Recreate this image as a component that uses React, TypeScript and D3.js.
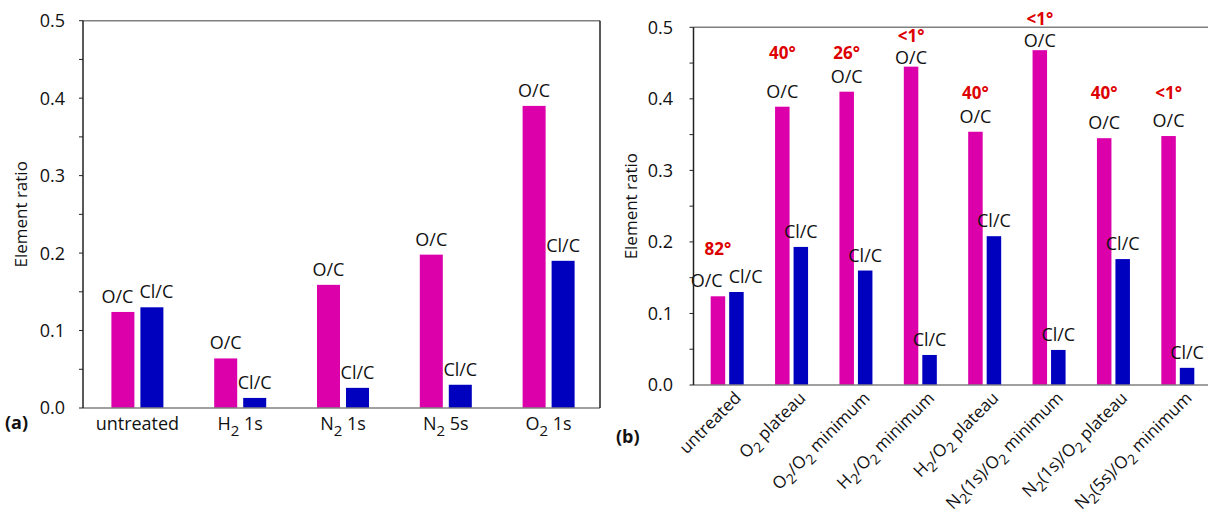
import React from 'react';
import * as d3 from 'd3';

// panel (a)
const catsA = ['untreated', 'H_2 1s', 'N_2 1s', 'N_2 5s', 'O_2 1s'];
const ocA = [0.124, 0.064, 0.159, 0.198, 0.39];
const clcA = [0.13, 0.013, 0.026, 0.03, 0.19];

// panel (b)
const catsB = [
  'untreated',
  'O_2 plateau',
  'O_2/O_2 minimum',
  'H_2/O_2 minimum',
  'H_2/O_2 plateau',
  'N_2(1s)/O_2 minimum',
  'N_2(1s)/O_2 plateau',
  'N_2(5s)/O_2 minimum',
];
const ocB = [0.124, 0.389, 0.41, 0.445, 0.354, 0.468, 0.345, 0.348];
const clcB = [0.13, 0.193, 0.16, 0.042, 0.208, 0.049, 0.176, 0.024];
const anglesB = ['82°', '40°', '26°', '<1°', '40°', '<1°', '40°', '<1°'];
// where each angle annotation sits, in element-ratio units
const angleAtB = [0.182, 0.455, 0.455, 0.48, 0.4, 0.503, 0.4, 0.4];

const yTicks = [0, 0.1, 0.2, 0.3, 0.4, 0.5];
const yMinor = [0.05, 0.15, 0.25, 0.35, 0.45];
const seriesNames = ['O/C', 'Cl/C'];

const MAG = '#dc00aa';
const BLU = '#0000bf';
const RED = '#dd0000';
const GREY = '#808080';
const FONT = "'Open Sans', sans-serif";

// "H_2 1s" -> H, lowered 2, " 1s"
function subLabel(label: string, subSize = 15, drop = 6) {
  const parts = label.split(/_(\d)/);
  let lowered = false;
  return parts.map((p, i) => {
    if (i % 2 === 1) {
      lowered = true;
      return (
        <tspan key={i} fontSize={subSize} dy={drop}>
          {p}
        </tspan>
      );
    }
    const dy = lowered ? -drop : 0;
    lowered = false;
    return (
      <tspan key={i} dy={dy}>
        {p}
      </tspan>
    );
  });
}

type PanelProps = {
  cats: string[];
  oc: number[];
  clc: number[];
  axisX: number;
  bandRange: [number, number];
  rightX: number;
  yRange: [number, number];
  barW: number;
  gap: number;
  rightBorder: boolean;
  rotated: boolean;
  catY: number;
  tickLabelX: number;
  titleX: number;
  tag: string;
  tagX: number;
  tagY: number;
  angles?: string[];
  angleAt?: number[];
};

function Panel(p: PanelProps) {
  const x = d3.scaleBand<string>().domain(p.cats).range(p.bandRange);
  const y = d3.scaleLinear().domain([0, 0.5]).range(p.yRange);
  const y0 = y(0);
  const yTop = y(0.5);
  const half = p.gap / 2;
  const fmt = d3.format('.1f');

  return (
    <g fontFamily={FONT}>
      {/* bars + labels */}
      {p.cats.map((c, i) => {
        const cx = (x(c) as number) + x.bandwidth() / 2;
        const xO = cx - half - p.barW;
        const xC = cx + half;
        let lxO = xO + p.barW / 2;
        let lxC = xC + p.barW / 2;
        let lyO = y(p.oc[i]) - 9;
        const lyC = y(p.clc[i]) - 9;
        const yAng = p.angleAt ? y(p.angleAt[i]) : null;
        // crowded near the top: squeeze the O/C label down onto the bar
        if (yAng !== null && lyO - yAng < 22) {
          lyO = Math.min(y(p.oc[i]) - 3, yAng + 22);
        }
        if (Math.abs(lyO - lyC) < 16) {
          const need = (32 + 34) / 2 + 6 - (lxC - lxO);
          if (need > 0) {
            lxO -= need * 0.55;
            lxC += need * 0.45;
          }
        }
        return (
          <g key={c}>
            <rect x={xO} y={y(p.oc[i])} width={p.barW} height={y0 - y(p.oc[i])} fill={MAG} />
            <rect x={xC} y={y(p.clc[i])} width={p.barW} height={y0 - y(p.clc[i])} fill={BLU} />
            <text x={lxO} y={lyO} textAnchor="middle" fontSize={18} fill="#111">
              {seriesNames[0]}
            </text>
            <text x={lxC} y={lyC} textAnchor="middle" fontSize={18} fill="#111">
              {seriesNames[1]}
            </text>
            {p.angles && yAng !== null && (
              <text
                x={xO + p.barW / 2}
                y={yAng}
                textAnchor="middle"
                fontSize={17}
                fontWeight="bold"
                fill={RED}
              >
                {p.angles[i]}
              </text>
            )}
            {p.rotated ? (
              <text
                transform={`translate(${cx + 15},${p.catY}) rotate(-45)`}
                textAnchor="end"
                fontSize={17}
                fill="#111"
              >
                {subLabel(c, 14, 5)}
              </text>
            ) : (
              <text x={cx} y={p.catY} textAnchor="middle" fontSize={18} fill="#111">
                {subLabel(c)}
              </text>
            )}
          </g>
        );
      })}

      {/* frame */}
      <line x1={p.axisX} x2={p.rightX} y1={yTop} y2={yTop} stroke={GREY} strokeWidth={1.5} />
      <line x1={p.axisX} x2={p.rightX} y1={y0} y2={y0} stroke={GREY} strokeWidth={1.5} />
      {p.rightBorder && (
        <line x1={p.rightX} x2={p.rightX} y1={yTop} y2={y0} stroke="#222" strokeWidth={1.5} />
      )}
      <line x1={p.axisX} x2={p.axisX} y1={yTop} y2={y0} stroke="#222" strokeWidth={1.5} />

      {/* y ticks */}
      {yTicks.concat(yMinor).map((t) => (
        <line key={t} x1={p.axisX - 4} x2={p.axisX} y1={y(t)} y2={y(t)} stroke="#222" strokeWidth={1} />
      ))}
      {yTicks.map((t) => (
        <text key={t} x={p.tickLabelX} y={y(t)} dy="0.36em" textAnchor="end" fontSize={18} fill="#111">
          {fmt(t)}
        </text>
      ))}

      {/* axis title */}
      <text
        transform={`translate(${p.titleX},${(y0 + yTop) / 2}) rotate(-90)`}
        textAnchor="middle"
        fontSize={17}
        fill="#111"
      >
        Element ratio
      </text>

      <text x={p.tagX} y={p.tagY} fontSize={18} fontWeight="bold" fill="#111">
        {p.tag}
      </text>
    </g>
  );
}

export default function App() {
  return (
    <svg
      width={1208}
      height={516}
      style={{ position: 'absolute', left: 0, top: 0, background: '#fff' }}
    >
      <rect width={1208} height={516} fill="#fff" />
      <Panel
        cats={catsA}
        oc={ocA}
        clc={clcA}
        axisX={83}
        bandRange={[86, 600]}
        rightX={600}
        yRange={[408, 20.7]}
        barW={23}
        gap={6}
        rightBorder={true}
        rotated={false}
        catY={430}
        tickLabelX={65}
        titleX={27}
        tag="(a)"
        tagX={5}
        tagY={429}
      />
      <Panel
        cats={catsB}
        oc={ocB}
        clc={clcB}
        axisX={693.5}
        bandRange={[695, 1210]}
        rightX={1208}
        yRange={[385, 27.3]}
        barW={14.5}
        gap={4}
        rightBorder={false}
        rotated={true}
        catY={399}
        tickLabelX={673}
        titleX={637}
        tag="(b)"
        tagX={616}
        tagY={443}
        angles={anglesB}
        angleAt={angleAtB}
      />
    </svg>
  );
}
